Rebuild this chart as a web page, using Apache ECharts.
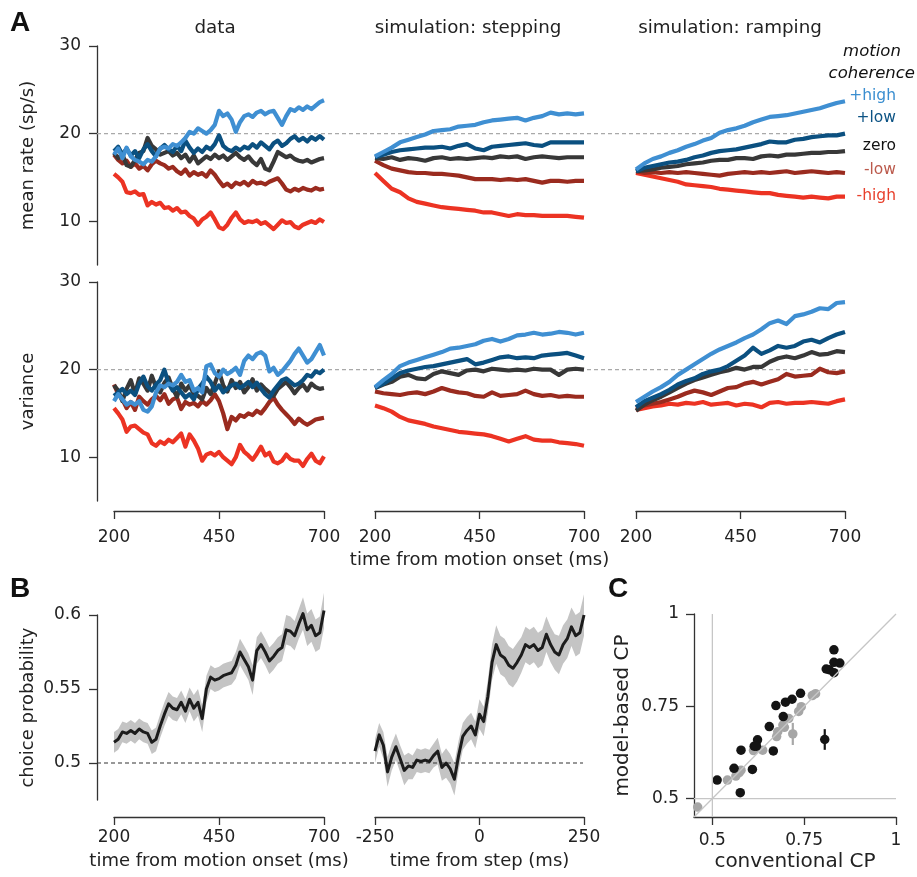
<!DOCTYPE html>
<html><head><meta charset="utf-8">
<script src="https://cdn.jsdelivr.net/npm/echarts@6/dist/echarts.min.js"></script>
<style>html,body{margin:0;padding:0;background:#fff}#c{width:917px;height:877px}</style>
</head><body><div id="c"></div>
<script>
// ---------- time grids ----------
const T10 = [200,210,220,230,240,250,260,270,280,290,300,310,320,330,340,350,360,370,380,390,400,410,420,430,440,450,460,470,480,490,500,510,520,530,540,550,560,570,580,590,600,610,620,630,640,650,660,670,680,690,700];
const T20 = [200,220,240,260,280,300,320,340,360,380,400,420,440,460,480,500,520,540,560,580,600,620,640,660,680,700];
const TSTEP = [-250,-240,-230,-220,-210,-200,-190,-180,-170,-160,-150,-140,-130,-120,-110,-100,-90,-80,-70,-60,-50,-40,-30,-20,-10,0,10,20,30,40,50,60,70,80,90,100,110,120,130,140,150,160,170,180,190,200,210,220,230,240,250];

const rateTicks = [10,20,30];
const timeTicks = [200,450,700];
const stepTicks = [-250,0,250];
const cpTicks = [0.5,0.55,0.6];
const cTicks = [0.5,0.75,1];

// ---------- Panel A: data, mean rate ----------
const rateDataMH = [15.4,15.0,14.5,13.3,13.2,13.4,13.0,13.1,11.8,12.2,11.9,12.1,11.5,11.6,11.2,11.5,11.0,11.1,10.6,10.3,9.6,10.2,10.5,11.0,10.2,9.3,9.1,9.6,10.4,11.0,10.2,9.8,10.0,9.9,10.1,9.7,9.9,9.5,9.1,9.6,10.1,9.8,9.9,9.4,9.2,9.6,9.8,10.0,9.8,10.2,9.9];
const rateDataML = [17.6,17.0,16.6,16.9,16.2,16.6,16.0,16.3,15.8,16.5,16.9,16.6,16.4,16.0,16.2,15.7,15.4,15.9,15.2,15.6,15.3,15.5,15.1,15.8,15.3,14.6,14.0,14.3,13.9,14.4,14.2,14.5,14.1,14.6,14.3,14.4,14.2,14.5,14.7,14.9,14.3,13.6,13.4,13.7,13.5,13.8,13.6,13.5,13.8,13.6,13.7];
const rateDataZ = [17.8,17.2,17.6,16.4,16.2,17.0,17.8,18.0,19.5,18.6,18.2,17.6,17.8,18.0,17.5,17.8,17.2,17.6,16.8,17.5,16.6,17.0,17.4,17.1,17.6,17.2,17.5,17.0,17.4,17.8,17.3,17.0,17.4,16.8,16.4,17.1,16.0,15.8,16.8,17.9,17.6,17.3,17.5,17.1,16.9,16.8,17.0,16.7,16.9,17.1,17.2];
const rateDataPL = [18.0,18.5,17.6,18.3,17.5,18.0,17.2,18.2,18.8,18.0,17.4,18.3,18.7,18.2,17.9,18.6,18.0,19.2,18.4,17.8,18.3,17.9,18.5,18.2,18.8,19.8,18.6,18.2,18.0,18.4,18.1,18.5,18.3,18.8,18.4,19.0,18.6,18.2,18.9,19.2,18.6,18.9,19.4,19.7,19.2,19.5,19.1,19.6,19.3,19.7,19.3];
const rateDataPH = [17.6,18.3,17.2,18.4,17.4,17.0,16.8,16.5,17.0,16.8,17.4,18.3,18.5,18.3,18.8,18.6,19.0,19.5,20.2,20.0,20.6,20.3,20.0,20.4,21.0,22.6,22.0,22.3,21.6,20.2,21.3,22.0,22.2,21.9,22.4,22.6,22.2,22.5,22.6,21.8,21.0,22.0,22.8,22.6,23.0,22.7,23.1,22.8,23.2,23.6,23.8];

// ---------- Panel A: data, variance ----------
const varDataMH = [15.6,15.0,14.3,12.9,13.5,13.6,13.2,12.8,12.6,11.6,11.3,11.8,11.5,12.0,11.7,12.2,12.7,11.2,12.6,11.9,11.0,9.6,10.3,10.5,10.2,10.6,10.0,9.6,9.2,10.0,11.4,10.6,10.2,9.7,10.4,11.2,10.2,10.5,9.5,9.3,9.6,10.3,9.8,9.6,9.6,9.0,9.8,10.4,9.6,9.3,10.1];
const varDataML = [18.3,17.2,16.6,15.6,16.3,15.4,16.9,16.4,16.0,16.6,17.0,16.5,17.2,16.1,16.6,16.8,15.5,16.3,16.0,16.2,15.8,16.4,16.0,16.5,17.2,16.4,15.0,13.2,14.6,14.2,14.8,14.6,15.0,14.8,15.3,15.0,15.6,16.3,16.8,16.0,15.4,14.9,14.4,13.8,14.4,14.0,13.7,14.0,14.3,14.4,14.5];
const varDataZ = [18.2,17.6,16.4,17.8,18.8,17.2,19.0,18.4,17.6,19.3,18.0,17.4,18.5,19.1,17.8,16.9,18.4,17.6,18.2,17.2,17.0,16.6,17.9,17.2,18.4,19.8,18.2,17.5,18.8,17.9,18.6,17.4,18.0,18.9,17.6,18.3,17.8,17.4,17.0,17.8,18.2,18.6,18.0,17.3,17.9,18.3,17.6,18.4,18.0,17.8,17.9];
const varDataPL = [17.0,17.4,17.8,17.2,17.6,17.1,18.4,19.2,18.1,17.6,18.3,18.8,20.0,18.4,17.6,18.0,17.4,16.8,17.2,16.6,17.8,18.4,19.2,18.6,17.6,18.2,17.4,17.8,18.2,18.4,17.9,18.2,18.6,18.0,18.5,17.8,17.2,16.8,17.6,18.2,18.8,19.0,18.6,18.2,18.4,18.8,19.4,19.2,19.8,19.6,20.0];
const varDataPH = [16.4,17.2,16.6,16.0,16.3,16.0,16.4,15.4,15.2,15.8,17.4,18.2,18.0,18.4,18.2,18.6,19.4,18.6,18.8,17.6,17.9,17.4,20.4,20.6,19.6,19.2,20.0,19.5,19.8,20.2,19.4,21.0,21.6,21.2,21.8,22.0,21.6,19.8,20.2,19.4,19.8,20.4,21.0,21.8,22.4,21.6,20.8,21.2,22.0,22.8,21.6];

// ---------- Panel A: stepping simulation ----------
const rateStepPH = [17.4,17.9,18.4,19.0,19.3,19.6,19.9,20.3,20.4,20.5,20.8,20.9,21.0,21.3,21.5,21.6,21.7,21.8,21.5,21.8,22.0,22.4,22.2,22.3,22.2,22.3];
const rateStepPL = [17.3,17.6,17.9,18.1,18.2,18.3,18.4,18.4,18.5,18.3,18.6,18.8,18.3,18.1,18.5,18.6,18.7,18.8,18.9,18.7,18.6,19.0,19.0,19.0,19.0,19.0];
const rateStepZ = [17.2,17.1,17.3,17.0,17.2,17.1,16.9,17.2,17.3,17.1,17.2,17.1,17.2,17.3,17.2,17.4,17.3,17.4,17.1,17.3,17.4,17.3,17.2,17.3,17.3,17.3];
const rateStepML = [16.9,16.4,16.0,15.8,15.6,15.5,15.5,15.4,15.4,15.3,15.2,15.0,14.8,14.8,14.8,14.7,14.8,14.7,14.8,14.6,14.4,14.6,14.6,14.5,14.6,14.6];
const rateStepMH = [15.5,14.6,13.7,13.3,12.6,12.2,12.0,11.8,11.6,11.5,11.4,11.3,11.2,11.0,11.0,10.8,10.6,10.8,10.7,10.7,10.6,10.6,10.6,10.6,10.5,10.4];
const varStepPH = [18.0,18.8,19.5,20.4,20.8,21.1,21.4,21.7,22.0,22.4,22.5,22.7,22.9,23.3,23.5,23.2,23.5,23.9,24.0,24.2,24.0,24.1,24.3,24.2,24.0,24.2];
const varStepPL = [17.9,18.4,19.0,19.6,19.9,20.1,20.3,20.4,20.6,20.8,21.0,21.2,20.6,20.8,21.1,21.4,21.5,21.3,21.4,21.3,21.6,21.7,21.8,21.9,21.6,21.3];
const varStepZ = [17.9,18.3,18.6,19.2,19.4,19.0,18.9,19.5,19.8,19.6,19.4,19.9,20.0,19.8,20.1,20.0,19.9,20.0,19.9,20.1,20.0,20.0,19.4,20.0,20.1,20.0];
const varStepML = [17.5,17.3,17.2,17.1,17.3,17.4,17.2,17.5,17.9,17.6,17.4,17.3,17.0,16.9,17.4,17.0,17.1,17.2,17.6,17.2,17.0,17.1,16.9,17.0,16.9,16.9];
const varStepMH = [15.9,15.6,15.2,14.6,14.2,14.0,13.8,13.5,13.3,13.1,12.9,12.8,12.7,12.6,12.4,12.1,11.8,12.1,12.4,12.0,11.9,11.9,11.7,11.6,11.5,11.3];

// ---------- Panel A: ramping simulation ----------
const rateRampPH = [15.9,16.6,17.1,17.4,17.8,18.1,18.5,18.8,19.2,19.5,20.1,20.4,20.6,20.9,21.3,21.6,21.9,22.0,22.1,22.3,22.5,22.7,22.9,23.2,23.5,23.7];
const rateRampPL = [15.7,16.1,16.3,16.5,16.7,16.8,17.0,17.3,17.5,17.8,18.0,18.1,18.2,18.4,18.6,18.8,19.1,19.0,19.0,19.3,19.4,19.6,19.7,19.8,19.8,20.0];
const rateRampZ = [15.7,15.8,15.9,16.1,16.2,16.3,16.5,16.6,16.7,16.9,17.0,17.0,17.2,17.2,17.1,17.4,17.5,17.4,17.6,17.6,17.7,17.8,17.8,17.9,17.9,18.0];
const rateRampML = [15.7,15.5,15.6,15.5,15.6,15.5,15.6,15.5,15.4,15.3,15.2,15.4,15.5,15.6,15.5,15.6,15.5,15.6,15.7,15.5,15.6,15.7,15.6,15.5,15.6,15.5];
const rateRampMH = [15.5,15.3,15.1,14.9,14.7,14.5,14.2,14.1,14.0,13.9,13.7,13.6,13.5,13.4,13.3,13.2,13.2,13.0,12.9,12.8,12.7,12.8,12.7,12.6,12.8,12.8];
const varRampPH = [16.3,16.9,17.5,18.0,18.6,19.4,20.0,20.6,21.2,21.8,22.3,22.7,23.1,23.6,24.0,24.6,25.3,25.6,25.2,26.1,26.3,26.6,27.0,26.9,27.6,27.7];
const varRampPL = [15.7,16.4,16.8,17.2,17.7,18.3,18.7,19.0,19.5,19.8,20.0,20.4,21.0,21.6,22.5,21.8,22.2,22.7,22.5,22.7,23.2,23.4,23.1,23.6,24.0,24.3];
const varRampZ = [15.3,16.0,16.5,16.9,17.4,17.9,18.4,18.8,19.1,19.4,19.7,19.9,20.2,20.0,20.3,20.3,20.9,21.3,21.5,21.3,21.6,22.0,21.7,21.8,22.1,22.0];
const varRampML = [15.6,15.9,16.1,16.3,16.6,16.9,17.3,17.6,17.4,17.1,17.5,17.9,18.0,18.4,18.6,18.3,18.6,18.9,19.5,19.2,19.3,19.4,20.1,19.7,19.6,19.8];
const varRampMH = [15.4,15.6,15.8,15.9,16.1,16.0,16.2,16.1,16.3,16.0,16.1,16.2,15.9,16.1,16.0,15.7,16.2,16.3,16.1,16.2,16.2,16.3,16.2,16.1,16.4,16.6];

// ---------- Panel B ----------
const cpMotion = [0.514,0.516,0.521,0.520,0.522,0.520,0.523,0.521,0.520,0.514,0.516,0.525,0.533,0.540,0.537,0.536,0.541,0.535,0.543,0.537,0.541,0.530,0.550,0.558,0.556,0.557,0.559,0.560,0.561,0.566,0.575,0.570,0.565,0.556,0.576,0.580,0.575,0.569,0.572,0.576,0.578,0.590,0.589,0.586,0.594,0.601,0.590,0.593,0.586,0.588,0.603];
const cpMotionErr = [0.007,0.007,0.007,0.007,0.007,0.007,0.007,0.007,0.007,0.008,0.008,0.008,0.008,0.008,0.008,0.008,0.008,0.008,0.008,0.009,0.009,0.009,0.009,0.008,0.008,0.008,0.008,0.008,0.008,0.009,0.009,0.009,0.009,0.010,0.009,0.009,0.009,0.009,0.009,0.009,0.009,0.010,0.010,0.010,0.010,0.011,0.011,0.011,0.011,0.011,0.012];
const cpStep = [0.508,0.519,0.512,0.494,0.504,0.511,0.503,0.495,0.498,0.497,0.502,0.501,0.502,0.501,0.505,0.508,0.497,0.500,0.496,0.489,0.505,0.518,0.522,0.525,0.519,0.533,0.528,0.545,0.568,0.580,0.573,0.571,0.566,0.564,0.568,0.573,0.580,0.578,0.580,0.576,0.578,0.587,0.580,0.575,0.573,0.580,0.584,0.592,0.586,0.588,0.600];
const cpStepErr = [0.008,0.008,0.009,0.010,0.009,0.009,0.009,0.010,0.009,0.008,0.008,0.008,0.008,0.008,0.008,0.009,0.009,0.010,0.010,0.011,0.010,0.009,0.009,0.009,0.009,0.010,0.010,0.011,0.012,0.013,0.013,0.013,0.013,0.013,0.013,0.012,0.012,0.012,0.012,0.012,0.012,0.012,0.012,0.012,0.013,0.013,0.013,0.013,0.014,0.014,0.014];

// ---------- Panel C ----------
const convBlack  = [0.513,0.559,0.578,0.576,0.609,0.614,0.623,0.620,0.655,0.666,0.673,0.693,0.699,0.717,0.740,0.806,0.810,0.818,0.831,0.831,0.831,0.847];
const modelBlack = [0.550,0.582,0.631,0.516,0.579,0.642,0.659,0.642,0.695,0.629,0.752,0.722,0.761,0.769,0.785,0.660,0.851,0.849,0.903,0.869,0.841,0.867];
const convGray   = [0.460,0.541,0.564,0.573,0.578,0.612,0.637,0.675,0.678,0.692,0.696,0.708,0.719,0.735,0.742,0.772,0.781];
const modelGray  = [0.477,0.550,0.561,0.570,0.577,0.630,0.631,0.668,0.681,0.699,0.693,0.717,0.675,0.736,0.749,0.779,0.784];
const errBarsBlack = [[0.806,0.660,0.028]];
const errBarsGray  = [[0.719,0.675,0.030]];

// ---------- styling ----------
const COL = {PH:'#3f8fd2', PL:'#0b5080', Z:'#383838', ML:'#9a2b1f', MH:'#ec3323'};
const FONT = '"DejaVu Sans", "Liberation Sans", Arial, sans-serif';
const AX = '#333';
const TICKF = 17;

const pair = (T, V) => T.map((t, i) => [t, V[i]]);

function hiddenAxis(grid, min, max) {
  return {type:'value', gridIndex:grid, min, max, show:false, splitLine:{show:false}};
}
function visAxis(grid, min, max, ticks, margin, extra, nameSize) {
  return Object.assign({
    type:'value', gridIndex:grid, min, max,
    axisLine:{show:true, lineStyle:{color:AX, width:1.3}},
    axisTick:{show:true, length:8, inside:false, lineStyle:{color:AX, width:1.3}, customValues:ticks},
    axisLabel:{show:true, color:'#222', fontSize:TICKF, fontFamily:FONT, margin, customValues:ticks},
    splitLine:{show:false},
    nameTextStyle:{color:'#222', fontSize:nameSize || 18, fontFamily:FONT},
    nameLocation:'middle'
  }, extra || {});
}

const grids = [
  {left:114, top:46, width:210, height:219},
  {left:375, top:46, width:209, height:219},
  {left:636, top:46, width:209, height:219},
  {left:114, top:282, width:210, height:219},
  {left:375, top:282, width:209, height:219},
  {left:636, top:282, width:209, height:219},
  {left:97, top:46, width:748, height:219},
  {left:97, top:282, width:748, height:219},
  {left:114, top:615, width:210, height:185},
  {left:375, top:615, width:209, height:185},
  {left:97, top:615, width:486, height:185},
  {left:694, top:614, width:202, height:203}
];

const xAxes = [
  hiddenAxis(0,200,700), hiddenAxis(1,200,700), hiddenAxis(2,200,700),
  visAxis(3,200,700,timeTicks,18,{offset:10}),
  visAxis(4,200,700,timeTicks,18,{offset:10, name:'time from motion onset (ms)', nameGap:40}),
  visAxis(5,200,700,timeTicks,18,{offset:10}),
  hiddenAxis(6,0,1), hiddenAxis(7,0,1),
  visAxis(8,200,700,timeTicks,12,{offset:17, name:'time from motion onset (ms)', nameGap:35}),
  visAxis(9,-250,250,stepTicks,12,{offset:17, name:'time from step (ms)', nameGap:35}),
  hiddenAxis(10,0,1),
  visAxis(11,0.45,1,cTicks,15,{name:'conventional CP', nameGap:35}, 20)
];
const yAxes = [
  visAxis(0,5,30,rateTicks,16,{offset:17, name:'mean rate (sp/s)', nameGap:60}),
  hiddenAxis(1,5,30), hiddenAxis(2,5,30),
  visAxis(3,5,30,rateTicks,16,{offset:17, name:'variance', nameGap:60}),
  hiddenAxis(4,5,30), hiddenAxis(5,5,30),
  hiddenAxis(6,5,30), hiddenAxis(7,5,30),
  visAxis(8,0.475,0.6,cpTicks,16,{offset:17, name:'choice probability', nameGap:60}),
  hiddenAxis(9,0.475,0.6), hiddenAxis(10,0.475,0.6),
  visAxis(11,0.45,1,cTicks,15,{name:'model-based CP', nameGap:61}, 20)
];

const series = [];
function addLine(grid, T, V, color, width) {
  series.push({type:'line', xAxisIndex:grid, yAxisIndex:grid, data:pair(T, V), showSymbol:false, symbol:'none',
    lineStyle:{color, width:width || 4, join:'round'}, clip:false, silent:true, animation:false});
}
// reference dashed lines (drawn first)
series.push({type:'line', xAxisIndex:6, yAxisIndex:6, data:[[0,20],[1,20]], symbol:'none', silent:true, animation:false,
  lineStyle:{color:'#a9a9a9', width:1.2, type:[4,3]}});
series.push({type:'line', xAxisIndex:7, yAxisIndex:7, data:[[0,20],[1,20]], symbol:'none', silent:true, animation:false,
  lineStyle:{color:'#a9a9a9', width:1.2, type:[4,3]}});
series.push({type:'line', xAxisIndex:10, yAxisIndex:10, data:[[0,0.5],[1,0.5]], symbol:'none', silent:true, animation:false,
  lineStyle:{color:'#333', width:1.2, type:[4,3]}});

const panelSets = [
  [0, T10, [rateDataMH, rateDataML, rateDataZ, rateDataPL, rateDataPH]],
  [1, T20, [rateStepMH, rateStepML, rateStepZ, rateStepPL, rateStepPH]],
  [2, T20, [rateRampMH, rateRampML, rateRampZ, rateRampPL, rateRampPH]],
  [3, T10, [varDataMH, varDataML, varDataZ, varDataPL, varDataPH]],
  [4, T20, [varStepMH, varStepML, varStepZ, varStepPL, varStepPH]],
  [5, T20, [varRampMH, varRampML, varRampZ, varRampPL, varRampPH]]
];
const order = ['MH','ML','Z','PL','PH'];
panelSets.forEach(([g, T, arrs]) => arrs.forEach((a, i) => addLine(g, T, a, COL[order[i]], 4.2)));

// Panel B bands
function band(grid, T, V, E) {
  series.push({type:'custom', xAxisIndex:grid, yAxisIndex:grid, data:[[T[0], V[0]]], silent:true, animation:false,
    renderItem: (params, api) => {
      const up = T.map((t, i) => api.coord([t, V[i] + E[i]]));
      const lo = T.map((t, i) => api.coord([t, V[i] - E[i]])).reverse();
      return {type:'polygon', shape:{points: up.concat(lo)}, style:{fill:'#c4c4c4'}};
    }});
}
band(8, T10, cpMotion, cpMotionErr);
band(9, TSTEP, cpStep, cpStepErr);
addLine(8, T10, cpMotion, '#1c1c1c', 3);
addLine(9, TSTEP, cpStep, '#1c1c1c', 3);

// Panel C reference lines
const refStyle = {color:'#c6c6c6', width:1.3};
series.push({type:'line', xAxisIndex:11, yAxisIndex:11, data:[[0.45,0.45],[1,1]], symbol:'none', silent:true, animation:false, lineStyle:refStyle, clip:false});
series.push({type:'line', xAxisIndex:11, yAxisIndex:11, data:[[0.5,0.45],[0.5,1]], symbol:'none', silent:true, animation:false, lineStyle:refStyle, clip:false});
series.push({type:'line', xAxisIndex:11, yAxisIndex:11, data:[[0.45,0.5],[1,0.5]], symbol:'none', silent:true, animation:false, lineStyle:refStyle, clip:false});
function errBars(data, color) {
  series.push({type:'custom', xAxisIndex:11, yAxisIndex:11, data, silent:true, animation:false,
    renderItem: (params, api) => {
      const x = api.value(0), y = api.value(1), e = api.value(2);
      const p1 = api.coord([x, y - e]), p2 = api.coord([x, y + e]);
      return {type:'line', shape:{x1:p1[0], y1:p1[1], x2:p2[0], y2:p2[1]}, style:{stroke:color, lineWidth:2.2}};
    }});
}
errBars(errBarsGray, '#a8a8a8');
series.push({type:'scatter', xAxisIndex:11, yAxisIndex:11, data:pair(convGray, modelGray), symbolSize:9.5, clip:false, silent:true, animation:false,
  itemStyle:{color:'#a6a6a6', opacity:1}});
errBars(errBarsBlack, '#141414');
series.push({type:'scatter', xAxisIndex:11, yAxisIndex:11, data:pair(convBlack, modelBlack), symbolSize:9.5, clip:false, silent:true, animation:false,
  itemStyle:{color:'#141414', opacity:1}});

// ---------- text annotations ----------
function txt(text, x, y, opts) {
  const o = opts || {};
  return {type:'text', silent:true, style:{
    text, x, y, fill:o.fill || '#222', font:o.font || ('18.3px ' + FONT),
    align:o.align || 'center', verticalAlign:'middle', textAlign:o.align || 'center', textVerticalAlign:'middle'
  }};
}
const letterFont = 'bold 28px "Liberation Sans Narrow", "Liberation Sans", Arial, sans-serif';
const LEG = '15.5px ' + FONT;
const graphic = [
  txt('A', 20, 23, {font:letterFont, fill:'#111'}),
  txt('B', 20, 589, {font:letterFont, fill:'#111'}),
  txt('C', 618, 589, {font:letterFont, fill:'#111'}),
  txt('data', 215, 28),
  txt('simulation: stepping', 468, 28),
  txt('simulation: ramping', 730, 28),
  txt('motion', 872, 52, {font:'italic 16.5px ' + FONT, fill:'#111'}),
  txt('coherence', 915, 74, {font:'italic 16.5px ' + FONT, fill:'#111', align:'right'}),
  txt('+high', 896, 96, {font:LEG, fill:'#3a8ed0', align:'right'}),
  txt('+low', 896, 118, {font:LEG, fill:'#0c5384', align:'right'}),
  txt('zero', 896, 146, {font:LEG, fill:'#111', align:'right'}),
  txt('-low', 896, 170, {font:LEG, fill:'#bb5a4c', align:'right'}),
  txt('-high', 896, 196, {font:LEG, fill:'#e8402c', align:'right'})
];

const chart = echarts.init(document.getElementById('c'), null, {renderer:'canvas'});
chart.setOption({
  animation:false,
  backgroundColor:'#fff',
  textStyle:{fontFamily:FONT},
  grid:grids, xAxis:xAxes, yAxis:yAxes, series, graphic
});
</script>
</body></html>
